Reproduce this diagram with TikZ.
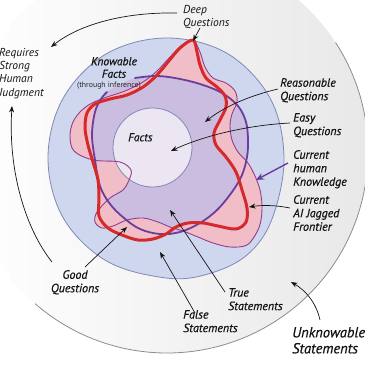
\documentclass[tikz,border=0pt]{standalone}
\usepackage{fontspec}
\setmainfont{PT Sans}
\newfontface\handf{PT Sans Italic}[FakeBold=0.6]
\newfontface\plainit{PT Sans Italic}
\usetikzlibrary{arrows.meta}
\definecolor{bluefill}{HTML}{CFD7EE}
\definecolor{bluedraw}{HTML}{7F88B6}
\definecolor{lav}{HTML}{CBBDDF}
\definecolor{pinkf}{HTML}{F1BEC7}
\definecolor{factsf}{HTML}{ECE6F2}
\definecolor{purp}{HTML}{6B3D9E}
\definecolor{thinp}{HTML}{913E8E}
\definecolor{redl}{HTML}{D52A2C}
\definecolor{outerg}{HTML}{8C8C8C}
\def\Bpath{plot[smooth cycle,tension=0.6] coordinates{(284,158) (272,219) (247,255) (208,274) (166,278) (106.5,261) (63,217.5) (48,158) (63,98.5) (106,54) (166,38) (226.5,53) (270,98)}}
\def\Ppath{plot[smooth cycle,tension=0.6] coordinates{(135,78) (155,76) (175,78) (200,84) (222,93) (238,106) (246,122) (248,140) (247,157) (242,175) (232,192) (217,210) (200,223) (180,232) (160,234) (140,229) (124,218) (110,204) (100,186) (95,160) (92,135) (95,112) (101,99) (107,92) (121,84)}}
\def\Popen{plot[smooth,tension=0.6] coordinates{(135,78) (155,76) (175,78) (200,84) (222,93) (238,106) (246,122) (248,140) (247,157) (242,175) (232,192) (217,210) (200,223) (180,232) (160,234) (140,229) (124,218) (110,204) (100,186) (95,160) (92,135) (95,112) (101,99) (107,92)}}
\def\Rpath{plot[smooth cycle,tension=0.55] coordinates{(193,40) (197,52) (200,65) (206,78) (217,87) (225,96) (226,107) (220,120) (214,133) (216,145) (226,157) (236,172) (242,190) (247,208) (246,222) (236,229) (218,226) (203,223) (188,223) (176,227) (166,234) (153,239) (138,240) (122,235) (108,228) (99,216) (99,198) (98,180) (93,162) (88,145) (85,128) (87,113) (95,104) (110,99) (127,95) (143,87) (156,76) (168,62) (180,48)}}
\def\Tpath{plot[smooth cycle,tension=0.55] coordinates{(193,40) (200,52) (205,67) (213,78) (226,83) (235,91) (237,102) (232,114) (230,126) (232,140) (238,152) (248,163) (255,176) (260,190) (262,205) (261,220) (257,232) (247,245) (230,247) (213,243) (198,237) (183,231) (170,227) (158,222) (143,218) (127,220) (113,226) (102,228) (95,222) (97,212) (110,198) (123,190) (129,180) (131,170) (120,162) (93,160) (74,151) (70,136) (73,122) (81,111) (92,103) (107,97) (125,91) (143,82) (157,71) (170,57) (182,45)}}
\tikzset{
  lab/.style={font=\fontsize{12}{13.5}\selectfont\handf, align=left, inner sep=0pt, anchor=north west, text=black!92},
  plainlab/.style={font=\fontsize{11.5}{13.3}\selectfont\plainit, align=left, inner sep=0pt, anchor=north west, text=black!92},
  arr/.style={-{Stealth[length=6.5pt,width=5pt]}, line width=0.7pt, black!92},
}
\begin{document}
\begin{tikzpicture}[x=1pt,y=-1pt]
\useasboundingbox (0,0) rectangle (365,365);
% outer disc
\shade[left color=white, right color=black!9] (167,152) circle (201pt);
\draw[outerg, line width=0.8pt] (167,152) ++(33:201pt) arc[start angle=33, end angle=-131, radius=201pt];
% knowable region
\fill[bluefill] \Bpath;
\draw[bluedraw, line width=0.8pt] \Bpath;
\fill[lav] \Ppath;
\fill[pinkf] \Tpath;
\fill[pinkf] \Rpath;
\begin{scope}
  \clip \Tpath;
  \clip \Rpath;
  \fill[lav] \Ppath;
\end{scope}
% facts circle
\node[circle, draw=bluedraw, fill=factsf, line width=0.8pt, minimum size=79pt, inner sep=0pt] (factscircle) at (152.5,147.5) {};
% boundaries
\draw[thinp, line width=0.9pt] \Tpath;
\draw[purp, line width=1.8pt, line cap=round] \Popen;
\draw[redl, line width=3pt, line join=round] \Rpath;
% labels
\node[plainlab] (deep) at (183,5) {Deep\\Questions};
\node[plainlab] (judg) at (-1,48) {Requires\\Strong\\Human\\Judgment};
\node[lab, align=center, anchor=north, font=\fontsize{11.5}{12.5}\selectfont\handf] (knowable) at (114,57) {Knowable\\Facts};
\node[inner sep=0pt, anchor=north, font=\fontsize{7.8}{9}\selectfont, text=black!85] (infer) at (109,82) {(through inference)};
\node[lab, font=\fontsize{11.5}{12}\selectfont\handf] (facts) at (128,133) {Facts};
\node[lab] (reason) at (280,78) {Reasonable\\Questions};
\node[lab] (easy) at (293,113) {Easy\\Questions};
\node[lab] (human) at (293,150) {Current\\human\\Knowledge};
\node[lab] (ai) at (293,195) {Current\\AI Jagged\\Frontier};
\node[lab, align=center, anchor=north] (good) at (75,270) {Good\\Questions};
\node[lab] (false) at (183,310) {False\\Statements};
\node[lab] (true) at (228,288) {True\\Statements};
\node[lab, font=\fontsize{14.5}{16}\selectfont\handf] (unknow) at (292,327) {Unknowable\\Statements};
% arrow end points
\coordinate (sDeep) at (200,28);   \coordinate (tDeep) at (193,41);
\coordinate (sTop) at (177,13);    \coordinate (tTop) at (51,47);
\coordinate (sLeft) at (52,262);   \coordinate (tLeft) at (12,106);
\coordinate (sReas) at (278,89);   \coordinate (tReas) at (205,122);
\coordinate (sEasy) at (290,123);  \coordinate (tEasy) at (171,151);
\coordinate (sHum) at (288,163);   \coordinate (tHum) at (256,180);
\coordinate (sAI) at (290,208);    \coordinate (tAI) at (249,207);
\coordinate (sTrue) at (225,292);  \coordinate (tTrue) at (170,210);
\coordinate (sFalse) at (195,313); \coordinate (tFalse) at (160,252);
\coordinate (sGood) at (85,267);   \coordinate (tGood) at (127,227);
\coordinate (sUnk) at (320,320);   \coordinate (tUnk) at (291,282);
% arrows
\draw[arr] (sDeep) -- (tDeep);
\draw[arr] (sTop) .. controls (125,12) and (80,24) .. (tTop);
\draw[arr] (sLeft) .. controls (25,228) and (8,170) .. (tLeft);
\draw[arr] (sReas) .. controls (252,95) and (225,106) .. (tReas);
\draw[arr] (sEasy) .. controls (250,125) and (205,135) .. (tEasy);
\draw[-{Stealth[length=8pt,width=7pt]}, purp, line width=1.4pt] (sHum) -- (tHum);
\draw[arr] (sAI) .. controls (275,205) and (262,205) .. (tAI);
\draw[arr] (sTrue) -- (tTrue);
\draw[arr] (sFalse) -- (tFalse);
\draw[arr] (sGood) -- (tGood);
\draw[arr] (sUnk) .. controls (316,302) and (305,290) .. (tUnk);
\end{tikzpicture}
\end{document}
